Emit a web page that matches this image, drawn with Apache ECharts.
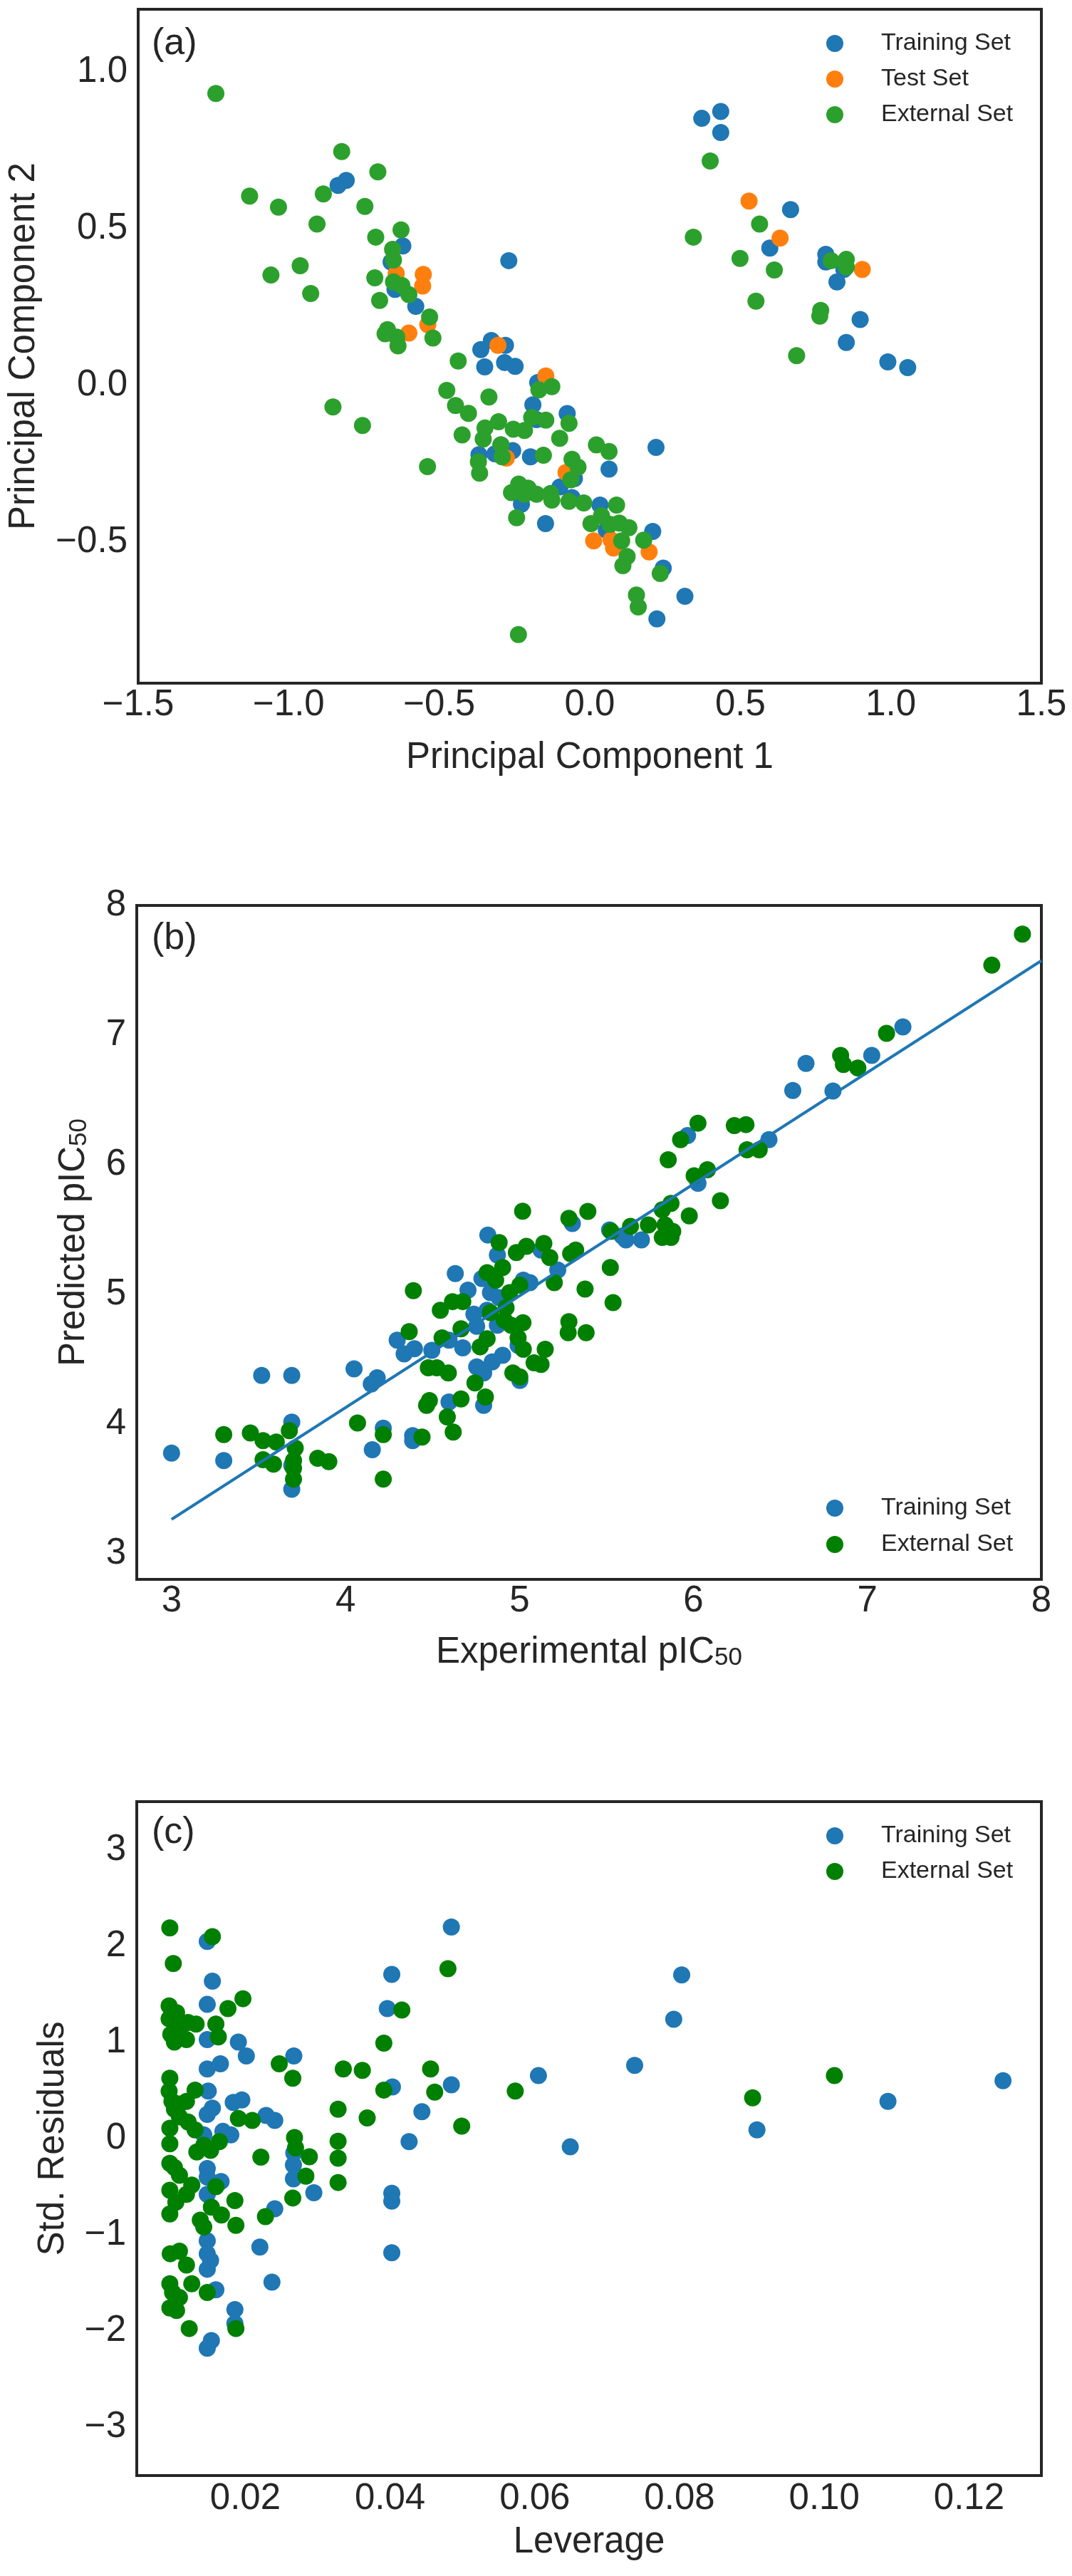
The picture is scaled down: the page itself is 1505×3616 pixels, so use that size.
<!DOCTYPE html>
<html>
<head>
<meta charset="utf-8">
<title>PCA / prediction / leverage</title>
<script src="https://cdn.jsdelivr.net/npm/echarts@6/dist/echarts.min.js"></script>
<style>
  html, body { margin: 0; padding: 0; background: #fff; }
  #chart { width: 1505px; height: 3616px; }
</style>
</head>
<body>
<div id="chart"></div>
<script>
// (a) principal components
const pcaTraining = [
  [-0.836, 0.638], [-0.809, 0.654], [-0.621, 0.445], [-0.660, 0.394], [-0.647, 0.306], [-0.578, 0.252], [-0.269, 0.398],
  [-0.327, 0.143], [-0.362, 0.114], [-0.280, 0.128], [-0.349, 0.059], [-0.283, 0.073], [-0.248, 0.061], [-0.173, 0.009],
  [-0.189, -0.062], [-0.075, -0.090], [-0.177, -0.109], [-0.295, -0.190], [-0.256, -0.208], [-0.368, -0.221], [-0.315, -0.218],
  [-0.197, -0.228], [0.064, -0.267], [0.220, -0.198], [-0.051, -0.297], [-0.099, -0.324], [-0.059, -0.358], [-0.227, -0.379],
  [-0.147, -0.441], [0.034, -0.382], [0.055, -0.462], [0.209, -0.466], [0.244, -0.583], [0.316, -0.673], [0.223, -0.745],
  [0.372, 0.852], [0.435, 0.874], [0.435, 0.807], [0.667, 0.561], [0.598, 0.438], [0.784, 0.418], [0.784, 0.394],
  [0.844, 0.370], [0.821, 0.330], [0.898, 0.210], [0.852, 0.137], [0.990, 0.075], [1.056, 0.057]
]
const pcaTest = [
  [-0.643, 0.357], [-0.553, 0.354], [-0.555, 0.317], [-0.538, 0.194], [-0.601, 0.167], [-0.305, 0.128], [-0.146, 0.030],
  [-0.277, -0.232], [-0.079, -0.278], [0.013, -0.496], [0.071, -0.493], [0.079, -0.519], [0.197, -0.531],
  [0.529, 0.588], [0.632, 0.470], [0.905, 0.370]
]
const pcaExternal = [
  [-1.242, 0.931], [-0.824, 0.746], [-0.704, 0.681], [-1.130, 0.604], [-0.885, 0.611], [-1.034, 0.569], [-0.747, 0.571],
  [-0.906, 0.515], [-0.627, 0.496], [-0.711, 0.473], [-0.655, 0.434], [-0.652, 0.400], [-0.962, 0.382], [-1.059, 0.352],
  [-0.714, 0.343], [-0.652, 0.330], [-0.624, 0.319], [-0.601, 0.290], [-0.927, 0.293], [-0.698, 0.271], [-0.532, 0.218],
  [-0.672, 0.178], [-0.641, 0.154], [-0.637, 0.126], [-0.680, 0.165], [-0.521, 0.151], [-0.853, -0.069], [-0.755, -0.128],
  [-0.437, 0.078], [-0.169, -0.014], [-0.126, -0.004], [-0.475, -0.016], [-0.446, -0.064], [-0.403, -0.089], [-0.335, -0.037],
  [-0.069, -0.121], [-0.193, -0.102], [-0.146, -0.111], [-0.303, -0.116], [-0.348, -0.136], [-0.254, -0.140], [-0.217, -0.144],
  [-0.424, -0.158], [-0.354, -0.171], [-0.100, -0.169], [-0.295, -0.190], [-0.291, -0.228], [-0.370, -0.244], [-0.366, -0.280],
  [-0.154, -0.223], [-0.539, -0.259], [0.022, -0.190], [0.064, -0.211], [-0.059, -0.236], [-0.039, -0.261], [-0.063, -0.301],
  [-0.236, -0.315], [-0.260, -0.342], [-0.205, -0.328], [-0.177, -0.347], [-0.130, -0.345], [-0.126, -0.366], [-0.217, -0.347],
  [-0.243, -0.422], [-0.069, -0.370], [-0.020, -0.375], [0.089, -0.382], [0.039, -0.416], [0.004, -0.441], [0.067, -0.443],
  [0.098, -0.439], [0.130, -0.454], [0.106, -0.496], [0.179, -0.494], [0.124, -0.546], [0.110, -0.575], [0.234, -0.600],
  [0.155, -0.669], [0.161, -0.707], [-0.237, -0.795],
  [0.400, 0.716], [0.564, 0.515], [0.344, 0.473], [0.499, 0.405], [0.613, 0.368], [0.802, 0.398], [0.852, 0.402],
  [0.852, 0.378], [0.552, 0.269], [0.767, 0.239], [0.764, 0.221], [0.687, 0.095]
]

// (b) experimental vs predicted pIC50
const predTraining = [
  [3.0, 3.774], [3.30, 3.716], [3.518, 4.374], [3.691, 4.374], [3.691, 4.014], [3.691, 3.495], [3.691, 3.68],
  [4.049, 4.424], [4.154, 3.801], [4.182, 4.355], [4.148, 4.308], [4.217, 3.967], [4.386, 3.909], [4.386, 3.87],
  [4.297, 4.645], [4.337, 4.540], [4.396, 4.579], [4.496, 4.567], [4.595, 4.645], [4.674, 4.587], [4.631, 5.159],
  [4.704, 5.032], [4.595, 4.169], [4.754, 4.440], [4.794, 4.393], [4.794, 4.142], [4.738, 4.846], [4.754, 4.753],
  [4.818, 5.457], [4.784, 5.121], [4.873, 5.303], [4.833, 5.012], [4.883, 4.974], [4.814, 4.877], [4.873, 4.761],
  [4.843, 4.478], [4.903, 4.529], [4.992, 4.606], [5.002, 4.335], [5.022, 5.109], [5.124, 5.341], [5.06, 5.09],
  [5.220, 5.187], [5.304, 5.546], [5.518, 5.496], [5.612, 5.419], [5.701, 5.419], [5.59, 5.45], [5.966, 6.224],
  [6.026, 5.856], [6.434, 6.193], [6.571, 6.572], [6.647, 6.781], [6.802, 6.568], [7.025, 6.843], [7.204, 7.063]
]
const predExternal = [
  [3.30, 3.917], [3.453, 3.929], [3.526, 3.871], [3.602, 3.859], [3.526, 3.724], [3.586, 3.689], [3.677, 3.948],
  [3.711, 3.813], [3.701, 3.716], [3.701, 3.658], [3.701, 3.573], [3.840, 3.735], [3.904, 3.708], [4.069, 4.006],
  [4.217, 3.917], [4.217, 3.573], [4.366, 4.711], [4.390, 5.028], [4.440, 3.898], [4.466, 4.142], [4.482, 4.180],
  [4.476, 4.432], [4.525, 4.432], [4.545, 4.877], [4.555, 4.664], [4.591, 4.393], [4.585, 4.053], [4.619, 3.937],
  [4.664, 4.192], [4.615, 4.943], [4.674, 4.943], [4.664, 4.734], [4.744, 4.316], [4.804, 4.207], [4.774, 4.594],
  [4.814, 4.656], [4.814, 5.167], [4.833, 4.858], [4.863, 5.109], [4.883, 5.399], [4.903, 5.206], [4.913, 4.800],
  [4.923, 4.896], [4.943, 5.012], [4.952, 4.761], [4.982, 5.322], [4.992, 4.664], [4.962, 4.393], [5.002, 4.362],
  [5.022, 4.575], [5.018, 5.64], [5.04, 5.37], [5.002, 5.07], [5.02, 4.78],
  [7.891, 7.779], [7.715, 7.539], [7.110, 7.013], [6.846, 6.843], [6.862, 6.773], [6.945, 6.746], [6.026, 6.320],
  [5.926, 6.193], [5.855, 6.038], [6.235, 6.301], [6.302, 6.309], [6.308, 6.115], [6.378, 6.115], [6.004, 5.914],
  [6.080, 5.961], [6.155, 5.721], [5.976, 5.605], [5.871, 5.701], [5.821, 5.651], [5.837, 5.535], [5.881, 5.485],
  [5.821, 5.438], [5.871, 5.438], [5.741, 5.535], [5.638, 5.523], [5.526, 5.485], [5.393, 5.639], [5.284, 5.585],
  [5.323, 5.341], [5.294, 5.314], [5.140, 5.392], [5.174, 5.283], [5.200, 5.090], [5.522, 5.206], [5.377, 5.040],
  [5.538, 4.935], [5.284, 4.788], [5.280, 4.703], [5.383, 4.703], [5.148, 4.575], [5.124, 4.459], [5.084, 4.471]
]
// fitted line end points
const fitLine = [[3.0, 3.263], [8.0, 7.574]]

// (c) leverage vs standardised residuals
const levTraining = [
  [0.01474, 2.048], [0.01545, 1.635], [0.01474, 1.394], [0.01474, 1.029], [0.01904, 1.003], [0.02014, 0.858], [0.0267, 0.858],
  [0.01474, 0.724], [0.01656, 0.777], [0.01488, 0.493], [0.01545, 0.316], [0.01474, 0.252], [0.01833, 0.375], [0.01952, 0.402],
  [0.02287, 0.241], [0.02407, 0.188], [0.0169, 0.075], [0.0180, 0.038], [0.01426, 0.038], [0.01474, -0.311], [0.01665, -0.445],
  [0.01474, -0.579], [0.01474, -0.40], [0.02665, -0.273], [0.02665, -0.418], [0.0267, -0.150], [0.02947, -0.563], [0.02407, -0.729],
  [0.01474, -1.062], [0.01474, -1.196], [0.0152, -1.265], [0.01474, -1.357], [0.01593, -1.571], [0.02201, -1.126], [0.02368, -1.491],
  [0.01856, -1.775], [0.01856, -1.920], [0.01531, -2.097], [0.01474, -2.177], [0.04024, 1.705], [0.03962, 1.351], [0.04033, 0.536],
  [0.04024, -0.568], [0.04024, -0.649], [0.04024, -1.185], [0.04263, -0.032], [0.0444, 0.279], [0.04847, 2.198], [0.04847, 0.558],
  [0.0605, 0.654], [0.0649, -0.086], [0.0738, 0.761], [0.0792, 1.239], [0.0803, 1.700], [0.0907, 0.091], [0.1088, 0.386],
  [0.1247, 0.601]
]
const levExternal = [
  [0.00957, 2.188], [0.01005, 1.818], [0.01545, 2.097], [0.01967, 1.453], [0.0176, 1.351], [0.01593, 1.190], [0.01627, 1.056],
  [0.0132, 1.190], [0.0121, 1.206], [0.01187, 1.029], [0.00947, 1.378], [0.0105, 1.308], [0.00947, 1.244], [0.0097, 1.083],
  [0.0102, 1.003], [0.0109, 1.137], [0.00957, 0.627], [0.00947, 0.493], [0.00986, 0.386], [0.0102, 0.306], [0.0109, 0.359],
  [0.01187, 0.386], [0.01306, 0.504], [0.0109, 0.225], [0.0121, 0.172], [0.01306, 0.091], [0.00957, 0.107], [0.00957, -0.054],
  [0.00957, -0.257], [0.0102, -0.300], [0.0109, -0.381], [0.00957, -0.536], [0.0104, -0.660], [0.00957, -0.783], [0.01187, -0.579],
  [0.0126, -0.483], [0.0133, -0.139], [0.01426, -0.070], [0.0152, -0.123], [0.01641, -0.032], [0.01593, -0.499], [0.01531, -0.713],
  [0.0167, -0.794], [0.01378, -0.847], [0.01426, -0.917], [0.01856, -0.643], [0.0187, -0.901], [0.00962, -1.196], [0.0109, -1.169],
  [0.01187, -1.314], [0.00957, -1.507], [0.00995, -1.598], [0.0109, -1.651], [0.00957, -1.759], [0.0105, -1.786], [0.0126, -1.507],
  [0.01474, -1.598], [0.01225, -1.973], [0.0187, -1.973], [0.02215, -0.193], [0.02278, -0.810], [0.01904, 0.209], [0.02096, 0.188],
  [0.02469, 0.777], [0.02656, 0.627], [0.0268, 0.011], [0.02694, -0.097], [0.02885, -0.188], [0.02837, -0.391], [0.02656, -0.617],
  [0.03282, 0.306], [0.03282, -0.027], [0.03282, -0.204], [0.03282, -0.456], [0.03354, 0.724], [0.03617, 0.708], [0.03684, 0.214],
  [0.03914, 0.992], [0.03914, 0.504], [0.04163, 1.335], [0.0456, 0.724], [0.04617, 0.483], [0.048, 1.764], [0.0499, 0.129],
  [0.0573, 0.493], [0.0901, 0.424], [0.1014, 0.654]
]

const legendNames = {
  aTrain: 'Training Set', aTest: 'Test Set', aExt: 'External Set',
  bTrain: 'Training Set', bExt: 'External Set',
  cTrain: 'Training Set', cExt: 'External Set'
}

const FONT = '"Liberation Sans", Arial, Helvetica, sans-serif'
const INK = '#262626'
const BLUE = '#1f77b4'
const ORANGE = '#ff7f0e'
const GREEN_A = '#2ca02c'
const GREEN = '#008000'

const minus = s => s.replace('-', '\u2212')
const onStep = (v, step) => Math.abs(v / step - Math.round(v / step)) < 1e-6

const grids = [13, 1271, 2529].map(top => ({
  left: 192, top, width: 1270, height: 946,
  show: true, borderColor: INK, borderWidth: 4, backgroundColor: 'transparent'
}))

function axis (grid, extra) {
  return Object.assign({
    type: 'value',
    gridIndex: grid,
    axisLine: { show: false },
    axisTick: { show: false },
    splitLine: { show: false },
    nameLocation: 'middle',
    nameTextStyle: { fontFamily: FONT, fontSize: 51, lineHeight: 51, color: INK }
  }, extra)
}

function tickLabel (margin, formatter) {
  return {
    margin, formatter, fontFamily: FONT, fontSize: 51, lineHeight: 51, color: INK,
    showMinLabel: true, showMaxLabel: true
  }
}

const sub = {
  n: { fontFamily: FONT, fontSize: 51, lineHeight: 51, color: INK },
  s: { fontFamily: FONT, fontSize: 35, lineHeight: 22, verticalAlign: 'bottom', color: INK }
}

const xAxes = [
  axis(0, {
    min: -1.5, max: 1.5, interval: 0.5,
    name: 'Principal Component 1', nameGap: 79,
    axisLabel: tickLabel(5, v => minus(v.toFixed(1)))
  }),
  axis(1, {
    min: 2.8, max: 8, interval: 0.2,
    name: '{n|Experimental pIC}{s|50}', nameGap: 77,
    nameTextStyle: { rich: sub },
    axisLabel: tickLabel(5, v => onStep(v, 1) ? v.toFixed(0) : '')
  }),
  axis(2, {
    min: 0.005, max: 0.13, interval: 0.005,
    name: 'Leverage', nameGap: 68,
    axisLabel: tickLabel(7, v => onStep(v, 0.02) ? v.toFixed(2) : '')
  })
]

const yAxes = [
  axis(0, {
    min: -0.95, max: 1.2, interval: 0.05,
    name: 'Principal Component 2', nameGap: 135, nameRotate: 90,
    axisLabel: tickLabel(15, v => onStep(v, 0.5) ? minus(v.toFixed(1)) : '')
  }),
  axis(1, {
    min: 2.8, max: 8, interval: 0.2,
    name: '{n|Predicted pIC}{s|50}', nameGap: 63, nameRotate: 90,
    nameTextStyle: { rich: sub },
    axisLabel: tickLabel(15, v => onStep(v, 1) ? v.toFixed(0) : '')
  }),
  axis(2, {
    min: -3.5, max: 3.5, interval: 0.5,
    name: 'Std. Residuals', nameGap: 92, nameRotate: 90,
    axisLabel: tickLabel(15, v => onStep(v, 1) ? minus(v.toFixed(0)) : '')
  })
]

function dots (name, grid, data, color) {
  return {
    type: 'scatter', name, data,
    xAxisIndex: grid, yAxisIndex: grid,
    symbol: 'circle', symbolSize: 24,
    itemStyle: { color, opacity: 1 },
    emphasis: { disabled: true }
  }
}

// legend rows are ~35px tall once the text is laid out
function legend (names, top, gap) {
  return {
    data: names, orient: 'vertical', left: 1160, top,
    itemWidth: 24, itemHeight: 24, itemGap: gap, icon: 'circle',
    selectedMode: false, padding: 0,
    formatter: n => '{g|}{t|' + legendNames[n] + '}',
    textStyle: {
      rich: {
        g: { width: 48 },
        t: { fontFamily: FONT, fontSize: 34, lineHeight: 24, color: INK }
      }
    }
  }
}

function panelTag (text, top) {
  return {
    text, left: 213, top, padding: 0,
    textStyle: { fontFamily: FONT, fontSize: 52, lineHeight: 52, fontWeight: 'normal', color: INK }
  }
}

const chart = echarts.init(document.getElementById('chart'), null, { renderer: 'canvas' })
chart.setOption({
  animation: false,
  backgroundColor: '#ffffff',
  textStyle: { fontFamily: FONT },
  title: [panelTag('(a)', 36), panelTag('(b)', 1292), panelTag('(c)', 2547)],
  legend: [
    legend(['aTrain', 'aTest', 'aExt'], 44, 16),
    legend(['bTrain', 'bExt'], 2100, 17),
    legend(['cTrain', 'cExt'], 2560, 16)
  ],
  grid: grids,
  xAxis: xAxes,
  yAxis: yAxes,
  series: [
    dots('aTrain', 0, pcaTraining, BLUE),
    dots('aTest', 0, pcaTest, ORANGE),
    dots('aExt', 0, pcaExternal, GREEN_A),
    dots('bTrain', 1, predTraining, BLUE),
    dots('bExt', 1, predExternal, GREEN),
    {
      type: 'line', name: 'bFit', data: fitLine,
      xAxisIndex: 1, yAxisIndex: 1,
      showSymbol: false, silent: true,
      lineStyle: { color: BLUE, width: 4 }
    },
    dots('cTrain', 2, levTraining, BLUE),
    dots('cExt', 2, levExternal, GREEN)
  ]
})
</script>
</body>
</html>
